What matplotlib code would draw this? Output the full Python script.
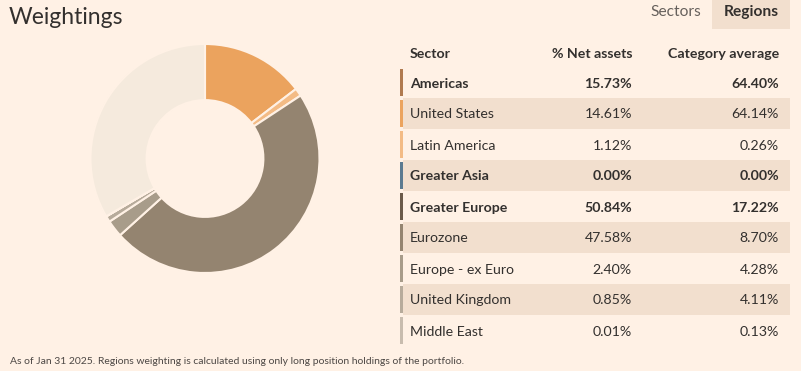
import matplotlib.pyplot as plt
from matplotlib.patches import Rectangle

BG = "#fff1e5"
TEXT = "#33302e"
SHADE = "#f2dfce"

# table data
sectors = ["Americas", "United States", "Latin America", "Greater Asia",
           "Greater Europe", "Eurozone", "Europe - ex Euro", "United Kingdom",
           "Middle East"]
net_assets = [15.73, 14.61, 1.12, 0.00, 50.84, 47.58, 2.40, 0.85, 0.01]
category_avg = [64.40, 64.14, 0.26, 0.00, 17.22, 8.70, 4.28, 4.11, 0.13]
is_group = [True, False, False, True, True, False, False, False, False]
marker_colors = ["#b07a4f", "#eba35e", "#f3bb85", "#5b7a90", "#6b5a4a",
                 "#948470", "#a89c8a", "#b7ab9b", "#c8bcae"]

# donut uses only the leaf regions, the rest is unallocated
donut_labels = ["United States", "Latin America", "Eurozone",
                "Europe - ex Euro", "United Kingdom", "Middle East"]
donut_values = [14.61, 1.12, 47.58, 2.40, 0.85, 0.01]
donut_colors = ["#eba35e", "#f3bb85", "#948470", "#a89c8a", "#b7ab9b", "#c8bcae"]
rest_color = "#f5eadd"

W, H = 801, 371
fig = plt.figure(figsize=(W / 100, H / 100), dpi=100, facecolor=BG)
plt.rcParams['font.family'] = ['Lato', 'DejaVu Sans']

# overlay axes in pixel coordinates for the table and text
ax = fig.add_axes([0, 0, 1, 1])
ax.set_xlim(0, W)
ax.set_ylim(H, 0)
ax.axis('off')

ax.text(9, 18, "Weightings", fontsize=16.5, color=TEXT, va='center', ha='left')

# tabs
ax.add_patch(Rectangle((712, 0), 78, 29, facecolor=SHADE, edgecolor='none'))
ax.text(676, 12, "Sectors", fontsize=11.2, color="#66605c", ha='center', va='center')
ax.text(751, 12, "Regions", fontsize=11.2, color=TEXT, ha='center', va='center',
        fontweight='bold')

FS = 10.2
# header
ax.text(410, 54, "Sector", fontsize=FS, color=TEXT, fontweight='bold', va='center')
ax.text(632, 54, "% Net assets", fontsize=FS, color=TEXT, fontweight='bold',
        va='center', ha='right')
ax.text(779, 54, "Category average", fontsize=FS, color=TEXT, fontweight='bold',
        va='center', ha='right')

row_h = 31
top = 67
for i, name in enumerate(sectors):
    y0 = top + i * row_h
    yc = y0 + row_h / 2 + 1
    if i % 2 == 1:
        ax.add_patch(Rectangle((403, y0), 387, row_h, facecolor=SHADE, edgecolor='none'))
    ax.add_patch(Rectangle((400, y0 + 2), 3, row_h - 4,
                           facecolor=marker_colors[i], edgecolor='none'))
    weight = 'bold' if is_group[i] else 'normal'
    ax.text(410, yc, name, fontsize=FS, color=TEXT, fontweight=weight, va='center')
    ax.text(632, yc, f"{net_assets[i]:.2f}%", fontsize=FS, color=TEXT,
            fontweight=weight, va='center', ha='right')
    ax.text(779, yc, f"{category_avg[i]:.2f}%", fontsize=FS, color=TEXT,
            fontweight=weight, va='center', ha='right')

ax.text(10, 361, "As of Jan 31 2025. Regions weighting is calculated using only "
        "long position holdings of the portfolio.", fontsize=7.5, color="#4d4845",
        va='center', ha='left')

# donut
cx, cy, r = 205, 158.5, 114.5
pax = fig.add_axes([(cx - r) / W, (H - cy - r) / H, 2 * r / W, 2 * r / H])
rest = 100 - sum(donut_values)
pax.pie(donut_values + [rest], colors=donut_colors + [rest_color],
        startangle=90, counterclock=False, radius=1,
        wedgeprops=dict(width=0.49, edgecolor=BG, linewidth=1.5))
pax.set_xlim(-1, 1)
pax.set_ylim(-1, 1)
pax.set_aspect('equal')
pax.axis('off')

fig.savefig("out.png", dpi=100, facecolor=BG)
